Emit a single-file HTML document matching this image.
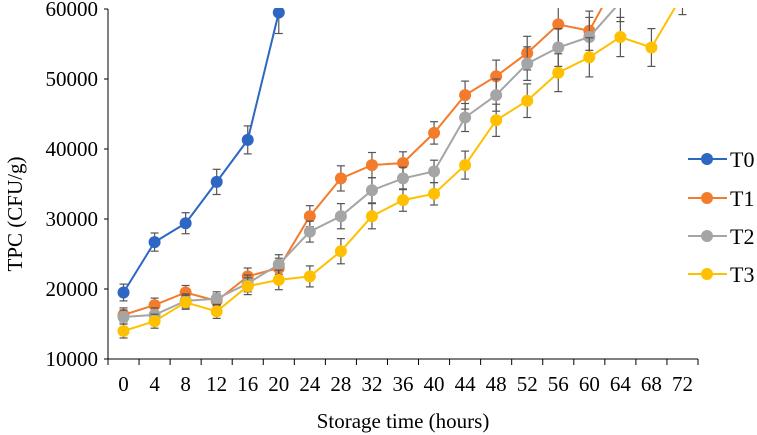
<!DOCTYPE html>
<html><head><meta charset="utf-8"><style>
body{margin:0;background:#fff;}
svg{display:block;font-family:"Liberation Serif",serif;}
</style></head><body>
<svg id="chart" width="757" height="435"></svg>
<script>
const categories=[0,4,8,12,16,20,24,28,32,36,40,44,48,52,56,60,64,68,72];
const yTicks=[10000,20000,30000,40000,50000,60000];
const t0=[19500,26700,29400,35300,41300,59500];
const t0Err=[1200,1300,1500,1800,2000,3000];
const t1=[16300,17700,19500,18300,21800,23000,30400,35800,37700,38000,42300,47700,50400,53700,57800,56900,65000,68000,72000];
const t2=[16000,16300,18300,18600,20800,23500,28200,30400,34100,35800,36800,44500,47700,52200,54500,56000,61000,65000,68000];
const t3=[14000,15400,18100,16800,20400,21300,21800,25400,30400,32700,33600,37700,44100,46900,50900,53100,56000,54500,62000];
const errAll=[1000,1000,1000,1000,1200,1400,1500,1800,1800,1600,1600,2000,2300,2400,2700,2800,2800,2700,2800];
const seriesNames=["T0","T1","T2","T3"];
const colors=["#2e66c4","#f47b2b","#a5a5a5","#ffc000"];
const X0=108,X1=698,YB=359,YT=9,YMIN=10000,YMAX=60000;
const bw=(X1-X0)/categories.length;
function xs(i){return X0+bw*(i+0.5);}
function ys(v){return YB-(v-YMIN)/(YMAX-YMIN)*(YB-YT);}
const NS="http://www.w3.org/2000/svg";
const svg=document.getElementById('chart');
function mk(tag,attrs,parent){const e=document.createElementNS(NS,tag);for(const k in attrs)e.setAttribute(k,attrs[k]);(parent||svg).appendChild(e);return e;}
const defs=mk('defs',{});
const cp=mk('clipPath',{id:'plotclip'},defs);
mk('rect',{x:0,y:YT-1,width:757,height:YB-YT+10},cp);
const ya=mk('line',{x1:X0,y1:YT,x2:X0,y2:YB,stroke:'#000','stroke-width':1});


const xa=mk('line',{x1:X0,y1:YB,x2:X1,y2:YB,stroke:'#000','stroke-width':1});


yTicks.forEach(v=>{
 const t=mk('text',{x:X0-10,y:ys(v)+7,'text-anchor':'end','font-size':21});
 t.textContent=v;
 
 
 mk('line',{x1:X0-4,y1:ys(v),x2:X0,y2:ys(v),stroke:'#000'});
});
for(let i=0;i<=categories.length;i++){mk('line',{x1:X0+bw*i,y1:YB,x2:X0+bw*i,y2:YB+6,stroke:'#000'});}
categories.forEach((c,i)=>{
 const t=mk('text',{x:xs(i),y:YB+32,'text-anchor':'middle','font-size':21});
 t.textContent=c;
 
 
});
const xt=mk('text',{x:(X0+X1)/2,y:428,'text-anchor':'middle','font-size':21});
xt.textContent='Storage time (hours)';


const yt=mk('text',{x:0,y:0,'text-anchor':'middle','font-size':21,transform:'translate(22,'+((YT+YB)/2+30)+') rotate(-90)'});
yt.textContent='TPC (CFU/g)';


const plot=mk('g',{'clip-path':'url(#plotclip)'});
const data=[t0,t1,t2,t3];
data.forEach((s,si)=>{
 const g=mk('g',{},plot);
 
 
 const err=si===0?t0Err:errAll;
 mk('polyline',{points:s.map((v,i)=>xs(i)+','+ys(v)).join(' '),fill:'none',stroke:colors[si],'stroke-width':2},g);
 s.forEach((v,i)=>{
  const e=err[i];
  mk('line',{x1:xs(i),y1:ys(v+e),x2:xs(i),y2:ys(v-e),stroke:'#555','stroke-width':1.2},g);
  mk('line',{x1:xs(i)-4,y1:ys(v+e),x2:xs(i)+4,y2:ys(v+e),stroke:'#555','stroke-width':1.2},g);
  mk('line',{x1:xs(i)-4,y1:ys(v-e),x2:xs(i)+4,y2:ys(v-e),stroke:'#555','stroke-width':1.2},g);
 });
 s.forEach((v,i)=>{
  const p=mk('circle',{cx:xs(i),cy:ys(v),r:6,fill:colors[si]},g);
  
  
 });
});
const legY=[159,198,236,274];
seriesNames.forEach((n,si)=>{
 const g=mk('g',{});
 
 
 mk('line',{x1:688,y1:legY[si],x2:727,y2:legY[si],stroke:colors[si],'stroke-width':2},g);
 mk('circle',{cx:707,cy:legY[si],r:6,fill:colors[si]},g);
 const t=mk('text',{x:730,y:legY[si]+8,'font-size':22},g);
 t.textContent=n;
});
</script>
</body></html>
